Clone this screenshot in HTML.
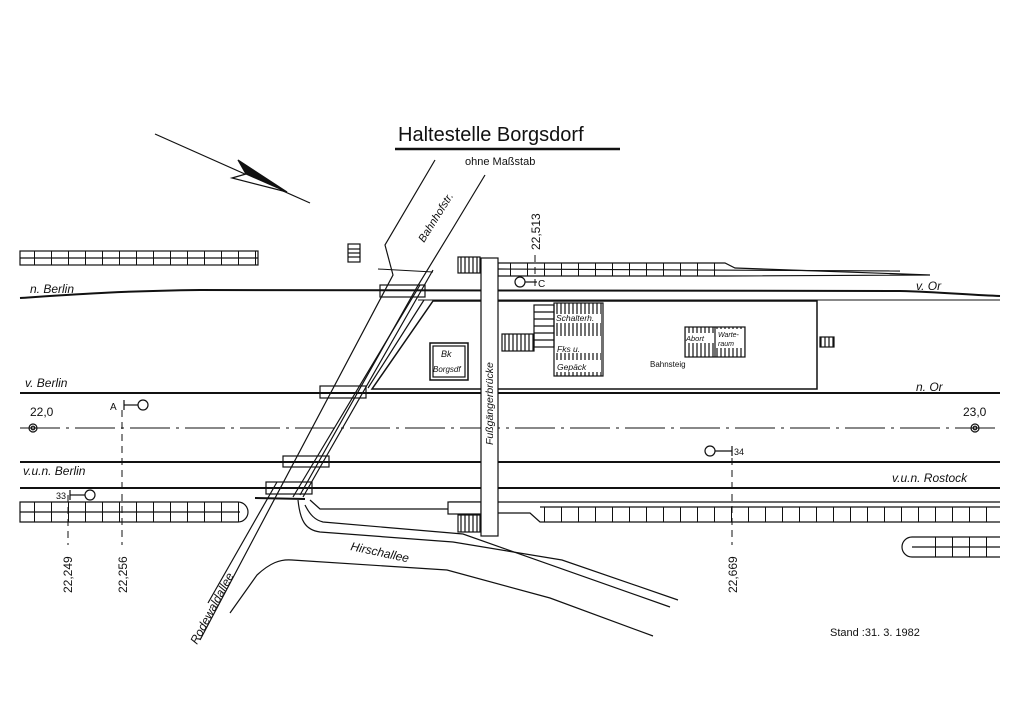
<!DOCTYPE html>
<html><head><meta charset="utf-8"><style>
html,body{margin:0;padding:0;background:#fff}
svg{display:block}
text{font-family:"Liberation Sans",sans-serif;fill:#111}
.i{font-style:italic}
</style></head><body>
<svg width="1024" height="724" viewBox="0 0 1024 724" xmlns="http://www.w3.org/2000/svg" stroke="#111" fill="none" stroke-width="1.2">
<defs>
<pattern id="hs" width="4" height="10" patternUnits="userSpaceOnUse"><line x1="1" y1="0" x2="1" y2="10" stroke="#111" stroke-width="1.2"/></pattern>
<pattern id="tie" width="17" height="20" patternUnits="userSpaceOnUse"><line x1="0.5" y1="0" x2="0.5" y2="20" stroke="#111" stroke-width="1"/></pattern>
</defs>
<!-- title -->
<text x="398" y="141" font-size="20" stroke="none">Haltestelle  Borgsdorf</text>
<line x1="395" y1="149" x2="620" y2="149" stroke-width="2.5"/>
<text x="465" y="165" font-size="11" stroke="none">ohne  Maßstab</text>
<!-- north arrow -->
<line x1="155" y1="134" x2="310" y2="203"/>
<polygon points="238,160 246,174 287,192" fill="#111"/>
<polygon points="246,174 232,178 287,192" fill="#fff"/>
<!-- upper-left strip -->
<rect x="20" y="251" width="238" height="14"/>
<line x1="20" y1="258" x2="258" y2="258"/>
<rect x="20" y="251" width="238" height="14" fill="url(#tie)" stroke="none"/>
<rect x="348" y="244" width="12" height="18"/>
<line x1="348" y1="249" x2="360" y2="249"/><line x1="348" y1="253" x2="360" y2="253"/><line x1="348" y1="257" x2="360" y2="257"/>
<!-- top right strip -->
<path d="M498,263 L725,263 L735,268 L930,275 L725,276 L498,276 Z"/>
<line x1="498" y1="269" x2="900" y2="271"/>
<rect x="498" y="263" width="230" height="13" fill="url(#tie)" stroke="none"/>
<!-- tracks -->
<path d="M20,298 C80,294 120,291 200,290 L900,291 C940,292 970,295 1000,296" stroke-width="2"/>
<line x1="418" y1="300" x2="1000" y2="300" stroke-width="1"/>
<line x1="20" y1="393" x2="1000" y2="393" stroke-width="2"/>
<line x1="20" y1="428" x2="1000" y2="428" stroke-dasharray="40,6,3,6" stroke-width="1"/>
<line x1="20" y1="462" x2="1000" y2="462" stroke-width="2"/>
<line x1="20" y1="488" x2="1000" y2="488" stroke-width="2"/>
<circle cx="33" cy="428" r="4"/><circle cx="33" cy="428" r="1.8"/>
<circle cx="975" cy="428" r="4"/><circle cx="975" cy="428" r="1.8"/>
<!-- platform -->
<path d="M433,301 L817,301 L817,389 L372,389 Z" stroke-width="1.5"/>
<line x1="424" y1="300" x2="368" y2="388"/>
<!-- lower strips -->
<path d="M20,502 L238,502 A10,10 0 0 1 238,522 L20,522 Z"/>
<line x1="20" y1="512" x2="240" y2="512"/>
<rect x="20" y="502" width="220" height="20" fill="url(#tie)" stroke="none"/>
<path d="M310,500 L320,509 L450,509 L450,502 L1000,502 M1000,522 L540,522 L530,513 L450,513"/>
<line x1="540" y1="507" x2="1000" y2="507"/>
<rect x="540" y="507" width="460" height="15" fill="url(#tie)" stroke="none"/>
<path d="M1000,537 L912,537 A10,10 0 0 0 912,557 L1000,557"/>
<line x1="912" y1="547" x2="1000" y2="547"/>
<rect x="920" y="537" width="80" height="20" fill="url(#tie)" stroke="none"/>
<!-- roads -->
<path d="M435,160 L385,245 L393,275 L200,640"/>
<path d="M485,175 L453,228 L417,287 L300,495"/>
<line x1="433" y1="270" x2="303" y2="497"/>
<line x1="420" y1="285" x2="293" y2="497"/>
<line x1="378" y1="269" x2="433" y2="272" stroke-width="1"/>
<line x1="255" y1="498" x2="305" y2="499" stroke-width="2"/>
<path d="M298,500 C300,520 305,530 320,532 L453,542 L562,560 L678,600"/>
<path d="M305,505 C310,515 315,520 323,522 L463,534 L670,607"/>
<path d="M230,613 L257,575 C270,563 280,559 292,560 L447,570 L550,598 L653,636"/>
<line x1="277" y1="482" x2="208" y2="603"/>
<!-- crossings -->
<rect x="380" y="285" width="45" height="12"/>
<rect x="320" y="386" width="46" height="12"/>
<rect x="283" y="456" width="46" height="11"/>
<rect x="266" y="482" width="46" height="12"/>
<!-- footbridge -->
<rect x="458" y="257" width="22" height="16" fill="url(#hs)"/>
<rect x="458" y="515" width="22" height="17" fill="url(#hs)"/>
<rect x="502" y="334" width="32" height="17" fill="url(#hs)"/>
<rect x="448" y="502" width="33" height="12" fill="#fff"/>
<rect x="481" y="258" width="17" height="278" fill="#fff"/>
<text transform="translate(493,445) rotate(-90)" font-size="10.5" class="i" stroke="none">Fußgängerbrücke</text>
<!-- buildings -->
<rect x="534" y="305" width="20" height="42"/>
<line x1="534" y1="312" x2="554" y2="312"/><line x1="534" y1="319" x2="554" y2="319"/><line x1="534" y1="326" x2="554" y2="326"/><line x1="534" y1="333" x2="554" y2="333"/><line x1="534" y1="340" x2="554" y2="340"/>
<rect x="554" y="303" width="49" height="73" fill="url(#hs)"/>
<rect x="556" y="314" width="45" height="9" fill="#fff" stroke="none"/>
<rect x="556" y="336" width="45" height="17" fill="#fff" stroke="none"/>
<rect x="556" y="360" width="45" height="12" fill="#fff" stroke="none"/>
<text x="556" y="321" font-size="8.5" class="i" stroke="none">Schalterh.</text>
<text x="557" y="352" font-size="8.5" class="i" stroke="none">Fks u.</text>
<text x="557" y="370" font-size="8.5" class="i" stroke="none">Gepäck</text>
<rect x="685" y="327" width="60" height="30" fill="url(#hs)"/>
<line x1="715" y1="327" x2="715" y2="357"/>
<rect x="686" y="333" width="28" height="10" fill="#fff" stroke="none"/>
<rect x="716" y="329" width="28" height="19" fill="#fff" stroke="none"/>
<text x="686" y="341" font-size="7.5" class="i" stroke="none">Abort</text>
<text x="718" y="337" font-size="7" class="i" stroke="none">Warte-</text>
<text x="718" y="346" font-size="7" class="i" stroke="none">raum</text>
<text x="650" y="367" font-size="8" stroke="none">Bahnsteig</text>
<rect x="820" y="337" width="14" height="10" fill="url(#hs)"/>
<rect x="430" y="343" width="38" height="37" stroke-width="1.5"/>
<rect x="433" y="346" width="32" height="31"/>
<text x="441" y="357" font-size="9" class="i" stroke="none">Bk</text>
<text x="433" y="372" font-size="8" class="i" stroke="none">Borgsdf</text>
<!-- signals -->
<circle cx="520" cy="282" r="5"/><line x1="525" y1="282" x2="537" y2="282"/><text x="538" y="287" font-size="10" stroke="none">C</text>
<circle cx="143" cy="405" r="5"/><line x1="124" y1="405" x2="138" y2="405"/><line x1="124" y1="400" x2="124" y2="410"/><text x="110" y="410" font-size="10" stroke="none">A</text>
<circle cx="90" cy="495" r="5"/><line x1="70" y1="495" x2="85" y2="495"/><line x1="70" y1="490" x2="70" y2="500"/><text x="56" y="499" font-size="9" stroke="none">33</text>
<circle cx="710" cy="451" r="5"/><line x1="715" y1="451" x2="732" y2="451"/><line x1="732" y1="446" x2="732" y2="456"/><text x="734" y="455" font-size="9" stroke="none">34</text>
<!-- km lines -->
<g stroke-dasharray="7,5" stroke-width="1">
<line x1="535" y1="255" x2="535" y2="290"/>
<line x1="68" y1="495" x2="68" y2="545"/>
<line x1="122" y1="410" x2="122" y2="545"/>
<line x1="732" y1="458" x2="732" y2="545"/>
</g>
<text transform="translate(540,250) rotate(-90)" font-size="12" stroke="none">22,513</text>
<text transform="translate(72,593) rotate(-90)" font-size="12" stroke="none">22,249</text>
<text transform="translate(127,593) rotate(-90)" font-size="12" stroke="none">22,256</text>
<text transform="translate(737,593) rotate(-90)" font-size="12" stroke="none">22,669</text>
<!-- labels -->
<g stroke="none" class="i" font-size="12">
<text x="30" y="293" class="i">n. Berlin</text>
<text x="25" y="387" class="i">v. Berlin</text>
<text x="23" y="475" class="i">v.u.n. Berlin</text>
<text x="916" y="290" class="i">v. Or</text>
<text x="916" y="391" class="i">n. Or</text>
<text x="892" y="482" class="i">v.u.n. Rostock</text>
<text transform="translate(350,550) rotate(12)" class="i">Hirschallee</text>
<text transform="translate(197,645) rotate(-62)" class="i">Rodewaldallee</text>
<text transform="translate(424,243) rotate(-58)" class="i" font-size="11">Bahnhofstr.</text>
</g>
<text x="30" y="416" font-size="12" stroke="none">22,0</text>
<text x="963" y="416" font-size="12" stroke="none">23,0</text>
<text x="830" y="636" font-size="11" stroke="none">Stand :31. 3. 1982</text>
</svg>
</body></html>
